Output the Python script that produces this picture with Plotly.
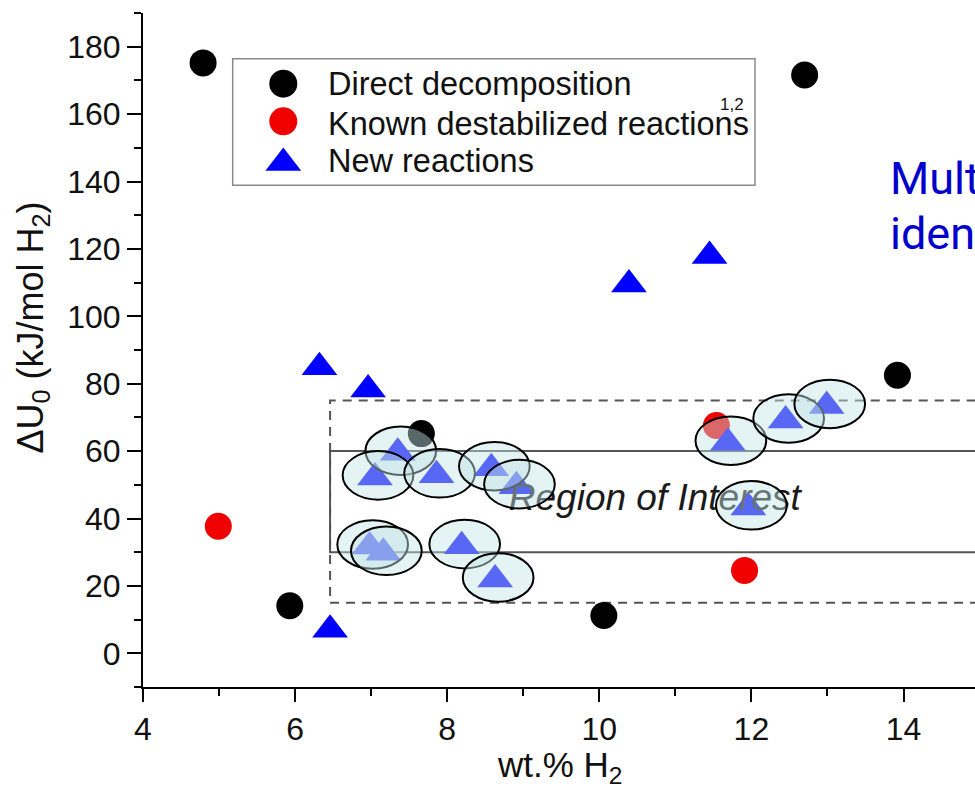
import plotly.graph_objects as go

# ---------------- data ----------------
direct_x = [4.79, 5.93, 7.66, 10.06, 12.70, 13.92]
direct_y = [175.2, 14.1, 65.2, 11.2, 171.6, 82.5]

known_x = [4.99, 11.54, 11.91]
known_y = [37.7, 67.6, 24.6]

new_x = [6.32, 6.96, 6.46, 10.39, 11.45, 7.35, 7.05, 7.86, 8.58, 8.91,
         6.98, 7.16, 8.19, 8.63, 11.69, 12.45, 12.99, 11.96]
new_y = [84.9, 78.3, 7.0, 109.4, 117.9, 59.5, 52.2, 52.8, 54.9, 49.6,
         31.7, 29.8, 31.8, 21.9, 62.5, 69.1, 73.4, 43.3]

# region bounds (wt.% start, inner band, outer band)
region_x0 = 6.46
inner_band = [30, 60]
outer_band = [15, 75]
region_label = "Region of Interest"

legend_names = ["Direct decomposition", "Known destabilized reactions", "New reactions"]
x_ticks = [4, 6, 8, 10, 12, 14]
y_ticks = [0, 20, 40, 60, 80, 100, 120, 140, 160, 180]

# ---------------- geometry helpers ----------------
W, H = 975, 791
ML, MR, MT, MB = 143, 0, 13, 104
PW, PH = W - ML - MR, H - MT - MB
X_RANGE = [4, 4 + PW / 76.05]
Y_RANGE = [-10, 190]

def px(xp):
    return (xp - ML) / PW

def py(yp):
    return (H - MB - yp) / PH

FONT = "Arial, Liberation Sans, sans-serif"
BLUE = "#0000ff"
RED = "#f00000"

fig = go.Figure()

fig.add_trace(go.Scatter(x=direct_x, y=direct_y, mode="markers", name=legend_names[0],
                         marker=dict(symbol="circle", size=27, color="black", opacity=1, line=dict(width=0)),
                         showlegend=False, hoverinfo="x+y"))
fig.add_trace(go.Scatter(x=known_x, y=known_y, mode="markers", name=legend_names[1],
                         marker=dict(symbol="circle", size=27, color=RED, opacity=1, line=dict(width=0)),
                         showlegend=False, hoverinfo="x+y"))
fig.add_trace(go.Scatter(x=new_x, y=new_y, mode="markers", name=legend_names[2],
                         marker=dict(symbol="triangle-up", size=31, color=BLUE, opacity=1, line=dict(width=0)),
                         showlegend=False, hoverinfo="x+y"))

# region label as a text trace (beneath highlight ellipses)
fig.add_trace(go.Scatter(x=[10.73], y=[45.3], mode="text", text=[region_label],
                         textposition="middle center",
                         textfont=dict(family=FONT, size=37, color="#1a1a1a", style="italic"),
                         showlegend=False, hoverinfo="skip"))

# custom legend markers on an overlay axis (0..1 = plot area)
leg_sym = ["circle", "circle", "triangle-up"]
leg_col = ["black", RED, BLUE]
leg_size = [28, 28, 31]
leg_y = [83.7, 121.3, 163]
for s, c, sz, yy in zip(leg_sym, leg_col, leg_size, leg_y):
    fig.add_trace(go.Scatter(x=[px(283.3)], y=[py(yy)], xaxis="x2", yaxis="y2", mode="markers",
                             marker=dict(symbol=s, size=sz, color=c, opacity=1, line=dict(width=0)),
                             showlegend=False, hoverinfo="skip", cliponaxis=False))

shapes = []
# region rectangles
shapes.append(dict(type="rect", xref="x", yref="y", x0=region_x0, x1=20,
                   y0=outer_band[0], y1=outer_band[1], layer="below",
                   line=dict(color="#555555", width=2, dash="9px,7px"), fillcolor="rgba(0,0,0,0)"))
shapes.append(dict(type="rect", xref="x", yref="y", x0=region_x0, x1=20,
                   y0=inner_band[0], y1=inner_band[1], layer="below",
                   line=dict(color="#555555", width=2), fillcolor="rgba(0,0,0,0)"))

# highlight ellipses around new reactions inside the region of interest
EW, EH = 0.465, 7.2
for xv, yv in zip(new_x, new_y):
    if xv >= region_x0 - 0.01 and outer_band[0] <= yv <= outer_band[1]:
        cx, cy = xv + 0.04, yv + 0.6
        shapes.append(dict(type="circle", xref="x", yref="y",
                           x0=cx - EW, x1=cx + EW, y0=cy - EH, y1=cy + EH, layer="above",
                           line=dict(color="black", width=2),
                           fillcolor="rgba(195,228,230,0.45)"))

# legend box
shapes.append(dict(type="rect", xref="paper", yref="paper",
                   x0=px(232.7), x1=px(755), y0=py(185.3), y1=py(58.7),
                   line=dict(color="#8a8a8a", width=1.5), fillcolor="rgba(0,0,0,0)", layer="above"))

annotations = []
for name, yy in zip(legend_names, [84, 123.7, 161]):
    annotations.append(dict(xref="paper", yref="paper", x=px(326), y=py(yy), text=name,
                            xanchor="left", yanchor="middle", showarrow=False,
                            font=dict(family=FONT, size=32.5, color="#111111")))
annotations.append(dict(xref="paper", yref="paper", x=px(732), y=py(104), text="1,2",
                        xanchor="center", yanchor="middle", showarrow=False,
                        font=dict(family=FONT, size=17, color="#111111")))
# axis titles
annotations.append(dict(xref="paper", yref="paper", x=px(32), y=py(327.5),
                        text="ΔU<sub>0</sub> (kJ/mol H<sub>2</sub>)", textangle=-90,
                        xanchor="center", yanchor="middle", showarrow=False,
                        font=dict(family=FONT, size=36, color="#111111")))
annotations.append(dict(xref="paper", yref="paper", x=px(560), y=py(766.5),
                        text="wt.% H<sub>2</sub>",
                        xanchor="center", yanchor="middle", showarrow=False,
                        font=dict(family=FONT, size=35, color="#111111")))
# side note (clipped by the figure edge, as in the original)
annotations.append(dict(xref="paper", yref="paper", x=px(888), y=py(178.5),
                        text="Multiple reactions", xanchor="left", yanchor="middle",
                        showarrow=False, font=dict(family="Roboto", size=45, color="#0000cc")))
annotations.append(dict(xref="paper", yref="paper", x=px(888), y=py(233.5),
                        text="identified", xanchor="left", yanchor="middle",
                        showarrow=False, font=dict(family="Roboto", size=45, color="#0000cc")))

axis_common = dict(showgrid=False, zeroline=False, showline=True, linecolor="black",
                   linewidth=2, ticks="outside", tickcolor="black", tickwidth=2,
                   tickfont=dict(family=FONT, size=32, color="#111111"), mirror=False)

fig.update_layout(
    width=W, height=H,
    margin=dict(l=ML, r=MR, t=MT, b=MB, pad=0),
    paper_bgcolor="white", plot_bgcolor="white",
    showlegend=False,
    xaxis=dict(**axis_common, range=X_RANGE, tickmode="array", tickvals=x_ticks,
               ticktext=[str(v) for v in x_ticks], ticklen=13,
               minor=dict(dtick=1, tick0=4, ticks="outside", ticklen=7, tickwidth=2,
                          tickcolor="black", showgrid=False)),
    yaxis=dict(**axis_common, range=Y_RANGE, tickmode="array", tickvals=y_ticks,
               ticktext=[str(v) for v in y_ticks], ticklen=14,
               minor=dict(dtick=10, tick0=0, ticks="outside", ticklen=7, tickwidth=2,
                          tickcolor="black", showgrid=False)),
    xaxis2=dict(overlaying="x", range=[0, 1], visible=False, fixedrange=True),
    yaxis2=dict(overlaying="y", range=[0, 1], visible=False, fixedrange=True),
    shapes=shapes,
    annotations=annotations,
)

fig.write_html("out.html")
